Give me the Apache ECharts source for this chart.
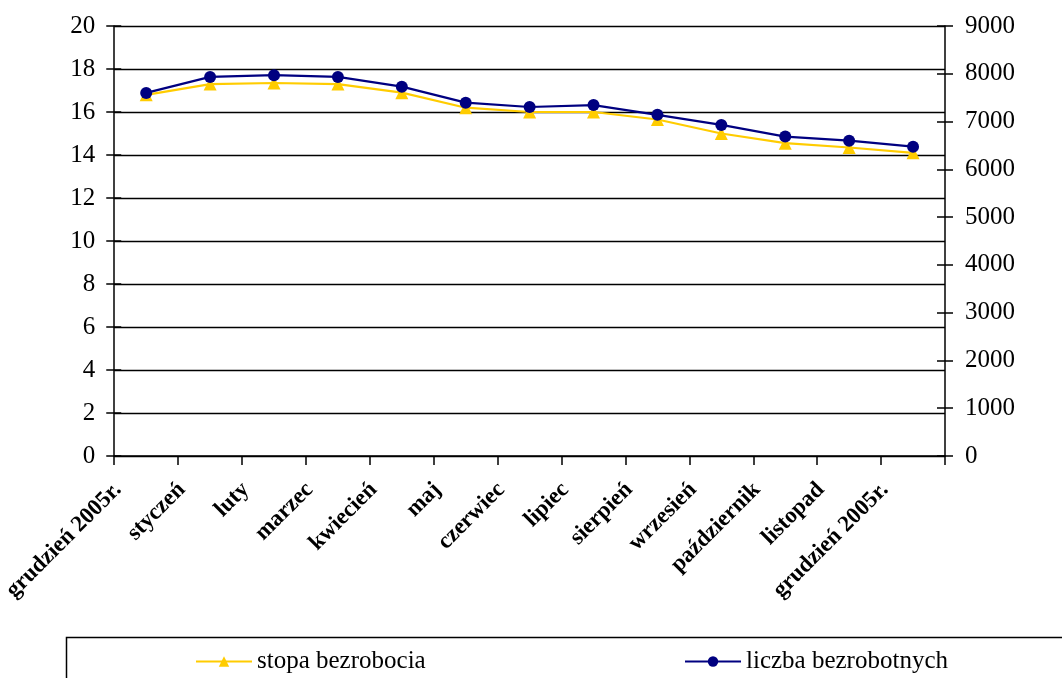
<!DOCTYPE html>
<html>
<head>
<meta charset="utf-8">
<script src="https://cdn.jsdelivr.net/npm/echarts@6/dist/echarts.min.js"></script>
<style>
html,body{margin:0;padding:0;background:#fff;}
#c{width:1062px;height:678px;}
</style>
</head>
<body>
<div id="c"></div>
<script>
const categories = ['grudzień 2005r.','styczeń','luty','marzec','kwiecień','maj','czerwiec','lipiec','sierpień','wrzesień','październik','listopad','grudzień 2005r.'];
const stopaBezrobocia = [16.8,17.3,17.35,17.3,16.9,16.2,16.0,16.0,15.65,15.0,14.55,14.35,14.1];
const liczbaBezrobotnych = [7600,7935,7970,7935,7730,7395,7305,7345,7140,6930,6685,6600,6475];
const leftTicks = {min:0,max:20,interval:2};
const rightTicks = {min:0,max:9000,interval:1000};

const font = 'Liberation Serif, Times New Roman, serif';
const axisStyle = {color:'#000',width:1.5};
const chart = echarts.init(document.getElementById('c'));
chart.setOption({
  animation:false,
  backgroundColor:'#fff',
  grid:{left:110,right:117,top:26,bottom:222,containLabel:false},
  xAxis:{
    type:'category',
    data:categories,
    boundaryGap:true,
    axisLine:{lineStyle:axisStyle},
    axisTick:{show:true,length:9,lineStyle:axisStyle},
    axisLabel:{rotate:45,interval:0,margin:2,padding:[0,40,0,0],fontFamily:font,fontWeight:'bold',fontSize:23,color:'#000'}
  },
  yAxis:[{
    type:'value',min:leftTicks.min,max:leftTicks.max,interval:leftTicks.interval,position:'left',
    axisLine:{show:true,lineStyle:axisStyle},
    axisTick:{show:true,length:8,lineStyle:axisStyle},
    splitLine:{show:true,lineStyle:{color:'#000',width:1.3}},
    axisLabel:{fontFamily:font,fontSize:25,color:'#000',margin:19}
  },{
    type:'value',min:rightTicks.min,max:rightTicks.max,interval:rightTicks.interval,position:'right',
    axisLine:{show:true,lineStyle:axisStyle},
    axisTick:{show:true,length:8,lineStyle:axisStyle},
    splitLine:{show:false},
    axisLabel:{fontFamily:font,fontSize:25,color:'#000',margin:20,formatter:function(v){return String(v);}}
  },{
    type:'value',min:leftTicks.min,max:leftTicks.max,interval:leftTicks.interval,position:'left',
    axisLine:{show:false},
    axisTick:{show:true,inside:true,length:7,lineStyle:axisStyle},
    splitLine:{show:false},axisLabel:{show:false}
  },{
    type:'value',min:rightTicks.min,max:rightTicks.max,interval:rightTicks.interval,position:'right',
    axisLine:{show:false},
    axisTick:{show:true,inside:true,length:8,lineStyle:axisStyle},
    splitLine:{show:false},axisLabel:{show:false}
  }],
  legend:[{
    left:190,top:644,itemWidth:56,itemHeight:13,
    textStyle:{fontFamily:font,fontSize:25,color:'#000'},
    data:['stopa bezrobocia']
  },{
    left:679,top:644,itemWidth:56,itemHeight:13,
    textStyle:{fontFamily:font,fontSize:25,color:'#000'},
    data:['liczba bezrobotnych']
  }],
  graphic:[{
    type:'rect',left:64,top:635,shape:{width:1010,height:60},
    style:{fill:'none',stroke:'#000',lineWidth:1.5},silent:true
  }],
  series:[{
    name:'stopa bezrobocia',type:'line',yAxisIndex:0,data:stopaBezrobocia,
    symbol:'triangle',symbolSize:13,
    lineStyle:{color:'#FFCC00',width:2.2},itemStyle:{color:'#FFCC00'}
  },{
    name:'liczba bezrobotnych',type:'line',yAxisIndex:1,data:liczbaBezrobotnych,
    symbol:'circle',symbolSize:12,
    lineStyle:{color:'#000080',width:2.2},itemStyle:{color:'#000080'}
  }]
});
</script>
</body>
</html>
